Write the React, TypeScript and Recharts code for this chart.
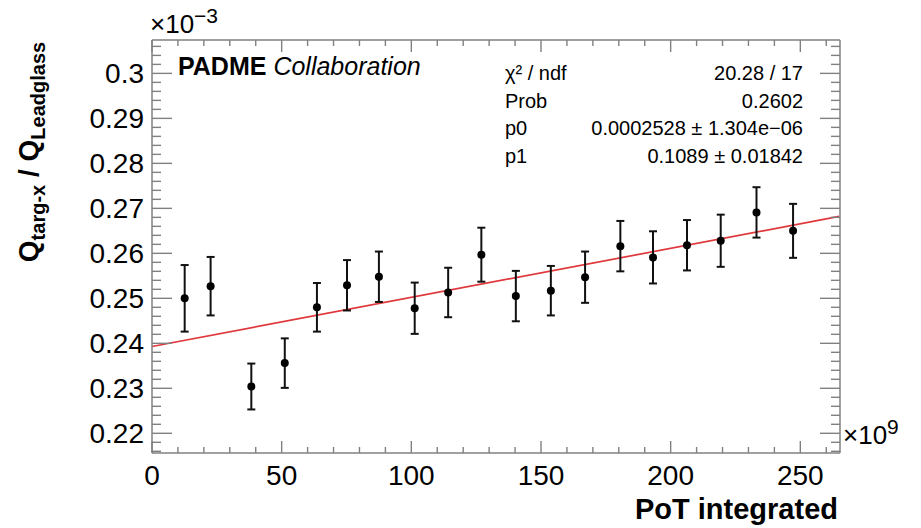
import React from 'react';
import {
  ComposedChart,
  XAxis,
  YAxis,
  Scatter,
  ErrorBar,
  ReferenceLine,
  Customized,
} from 'recharts';

// ---- data (x in 10^9 PoT, y in 10^-3) ----
const potValues = [12.6, 22.6, 38.3, 51.2, 63.6, 75.2, 87.5, 101.3, 114.2, 127.0, 140.3, 153.8, 167.0, 180.6, 193.2, 206.3, 219.3, 233.1, 247.2];
const ratioValues = [0.2500, 0.2527, 0.2304, 0.2356, 0.2480, 0.2529, 0.2548, 0.2478, 0.2513, 0.2597, 0.2505, 0.2517, 0.2547, 0.2616, 0.2591, 0.2618, 0.2628, 0.2691, 0.2650];
const ratioErrors = [0.0074, 0.0065, 0.0051, 0.0055, 0.0054, 0.0056, 0.0056, 0.0057, 0.0055, 0.0060, 0.0056, 0.0055, 0.0057, 0.0056, 0.0058, 0.0056, 0.0058, 0.0056, 0.0060];

// fit line end points
const fitLine = [
  { x: 0, y: 0.2393 },
  { x: 265, y: 0.2682 },
];

// stats box
const statLabels = ['χ² / ndf', 'Prob', 'p0', 'p1'];
const statValues = ['20.28 / 17', '0.2602', '0.0002528 ± 1.304e−06', '0.1089 ± 0.01842'];

// axes
const xDomain = [0, 265.3];
const yDomain = [0.21562, 0.30742];
const xMajorTicks = [0, 50, 100, 150, 200, 250];
const xMajorLabels = ['0', '50', '100', '150', '200', '250'];
const yMajorTicks = [0.22, 0.23, 0.24, 0.25, 0.26, 0.27, 0.28, 0.29, 0.3];
const yMajorLabels = ['0.22', '0.23', '0.24', '0.25', '0.26', '0.27', '0.28', '0.29', '0.3'];

const xAllTicks: number[] = [];
for (let i = 0; i <= 26; i++) xAllTicks.push(i * 10);
const yAllTicks: number[] = [];
for (let i = 0; i <= 45; i++) yAllTicks.push(Math.round((0.216 + i * 0.002) * 1e6) / 1e6);

const points = potValues.map((x, i) => ({ x, y: ratioValues[i], err: ratioErrors[i] }));

const FONT = '"Liberation Sans", Arial, Helvetica, sans-serif';
const AXIS_GREY = '#808080';

const isMajorX = (v: number) => xMajorTicks.some((t) => Math.abs(t - v) < 1e-6);
const isMajorY = (v: number) => yMajorTicks.some((t) => Math.abs(t - v) < 1e-6);
const xLabel = (v: number) => xMajorLabels[xMajorTicks.findIndex((t) => Math.abs(t - v) < 1e-6)];
const yLabel = (v: number) => yMajorLabels[yMajorTicks.findIndex((t) => Math.abs(t - v) < 1e-6)];

const BottomTick = (props: any) => {
  const { x, y, payload } = props;
  const major = isMajorX(payload.value);
  return (
    <g>
      <line x1={x} x2={x} y1={y} y2={y - (major ? 12 : 6)} stroke={AXIS_GREY} strokeWidth={1.4} />
      {major && (
        <text x={x} y={y + 32} textAnchor="middle" fontSize={28} fontFamily={FONT} fill="#000">
          {xLabel(payload.value)}
        </text>
      )}
    </g>
  );
};

const TopTick = (props: any) => {
  const { x, y, payload } = props;
  const major = isMajorX(payload.value);
  return <line x1={x} x2={x} y1={y} y2={y + (major ? 12 : 6)} stroke={AXIS_GREY} strokeWidth={1.4} />;
};

const LeftTick = (props: any) => {
  const { x, y, payload } = props;
  const major = isMajorY(payload.value);
  return (
    <g>
      <line x1={x} x2={x + (major ? 20 : 9)} y1={y} y2={y} stroke={AXIS_GREY} strokeWidth={1.4} />
      {major && (
        <text x={x - 8} y={y} dy={10} textAnchor="end" fontSize={28} fontFamily={FONT} fill="#000">
          {yLabel(payload.value)}
        </text>
      )}
    </g>
  );
};

const RightTick = (props: any) => {
  const { x, y, payload } = props;
  const major = isMajorY(payload.value);
  return <line x1={x} x2={x - (major ? 20 : 9)} y1={y} y2={y} stroke={AXIS_GREY} strokeWidth={1.4} />;
};

const Dot = (props: any) => <circle cx={props.cx} cy={props.cy} r={4} fill="#000" />;
const NoShape = () => <g />;

const Annotations = () => (
  <g fontFamily={FONT} fill="#000">
    {/* y axis title */}
    <text transform="translate(38,152) rotate(-90)" textAnchor="middle" fontWeight="bold" fontSize={28}>
      Q
      <tspan fontSize={20} dy={7}>targ-x</tspan>
      <tspan dy={-7}> / Q</tspan>
      <tspan fontSize={20} dy={7}>Leadglass</tspan>
    </text>
    {/* x axis title */}
    <text x={838} y={519} textAnchor="end" fontWeight="bold" fontSize={29}>
      PoT integrated
    </text>
    {/* exponents */}
    <text x={150} y={33} fontSize={26}>
      ×10<tspan fontSize={21} dy={-10}>−3</tspan>
    </text>
    <text x={843} y={444} fontSize={26}>
      ×10<tspan fontSize={21} dy={-10}>9</tspan>
    </text>
    {/* collaboration */}
    <text x={178} y={75} fontSize={25}>
      <tspan fontWeight="bold">PADME</tspan>
      <tspan fontStyle="italic"> Collaboration</tspan>
    </text>
    {/* stats */}
    {statLabels.map((s, i) => (
      <text key={'l' + i} x={505} y={80 + i * 27.5} fontSize={20}>
        {s}
      </text>
    ))}
    {statValues.map((s, i) => (
      <text key={'v' + i} x={803} y={80 + i * 27.5} fontSize={20} textAnchor="end">
        {s}
      </text>
    ))}
  </g>
);

export default function App() {
  return (
    <div style={{ position: 'absolute', left: 0, top: 0, width: 921, height: 528, background: '#fff' }}>
      <ComposedChart
        width={921}
        height={528}
        data={points}
        margin={{ top: 39, right: 80, bottom: 0, left: 0 }}
      >
        <XAxis
          dataKey="x"
          type="number"
          domain={xDomain}
          allowDataOverflow
          ticks={xAllTicks}
          interval={0}
          tickSize={0}
          tickMargin={0}
          tickLine={false}
          tick={BottomTick}
          height={75}
          axisLine={{ stroke: AXIS_GREY, strokeWidth: 1.5 }}
        />
        <XAxis
          xAxisId="top"
          orientation="top"
          dataKey="x"
          type="number"
          domain={xDomain}
          allowDataOverflow
          ticks={xAllTicks}
          interval={0}
          tickSize={0}
          tickMargin={0}
          tickLine={false}
          tick={TopTick}
          height={1}
          axisLine={{ stroke: AXIS_GREY, strokeWidth: 1.5 }}
        />
        <YAxis
          dataKey="y"
          type="number"
          domain={yDomain}
          allowDataOverflow
          ticks={yAllTicks}
          interval={0}
          tickSize={0}
          tickMargin={0}
          tickLine={false}
          tick={LeftTick}
          width={152}
          axisLine={{ stroke: AXIS_GREY, strokeWidth: 1.5 }}
        />
        <YAxis
          yAxisId="right"
          orientation="right"
          dataKey="y"
          type="number"
          domain={yDomain}
          allowDataOverflow
          ticks={yAllTicks}
          interval={0}
          tickSize={0}
          tickMargin={0}
          tickLine={false}
          tick={RightTick}
          width={1}
          axisLine={{ stroke: AXIS_GREY, strokeWidth: 1.5 }}
        />
        <ReferenceLine
          segment={[fitLine[0], fitLine[1]]}
          stroke="#e0383c"
          strokeWidth={1.7}
          ifOverflow="visible"
        />
        {/* invisible series binding the top/right frame axes */}
        <Scatter
          xAxisId="top"
          yAxisId="right"
          dataKey="y"
          shape={NoShape}
          legendType="none"
          isAnimationActive={false}
        />
        <Scatter dataKey="y" shape={Dot} isAnimationActive={false}>
          <ErrorBar dataKey="err" direction="y" width={4} stroke="#111" strokeWidth={2} isAnimationActive={false} />
        </Scatter>
        <Customized component={Annotations} />
      </ComposedChart>
    </div>
  );
}
